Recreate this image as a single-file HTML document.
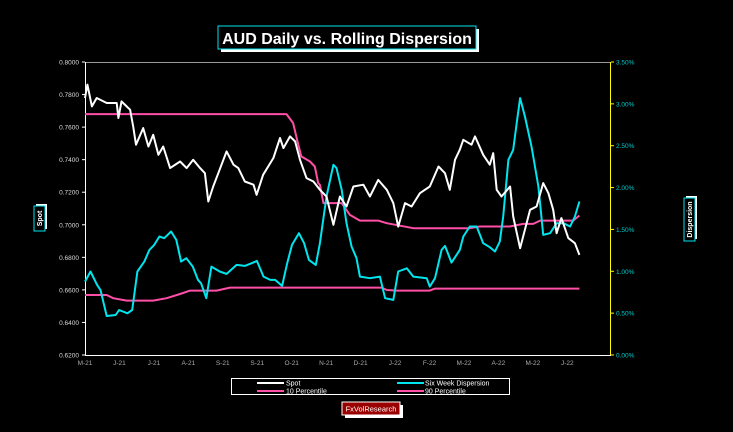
<!DOCTYPE html>
<html><head><meta charset="utf-8"><style>
body{margin:0;background:#000;width:733px;height:432px;overflow:hidden;font-family:"Liberation Sans",sans-serif}
svg{display:block}
</style></head><body>
<svg width="733" height="432">
<rect x="0" y="0" width="733" height="432" fill="#000"/>
<g>
<rect x="221" y="29" width="258" height="23" fill="#fff"/>
<rect x="218" y="26" width="258" height="23" fill="#000" stroke="#00e5ee" stroke-width="1"/>
<text x="347" y="44" text-anchor="middle" fill="#fff" font-size="16" font-weight="bold">AUD Daily vs. Rolling Dispersion</text>
</g>
<g id="axes"></g>
<g id="series"></g>
<g>
<rect x="36" y="204" width="11" height="25" fill="#fff"/>
<rect x="34" y="206" width="11" height="25" fill="#000" stroke="#00e5ee"/>
<text transform="translate(42,218.5) rotate(-90)" text-anchor="middle" fill="#fff" font-size="7" font-weight="bold">Spot</text>
</g>
<g>
<rect x="686" y="196" width="11" height="43" fill="#fff"/>
<rect x="684" y="198" width="11" height="43" fill="#000" stroke="#00e5ee"/>
<text transform="translate(692,219.5) rotate(-90)" text-anchor="middle" fill="#fff" font-size="7" font-weight="bold">Dispersion</text>
</g>
<g>
<rect x="231.5" y="378.5" width="278" height="16" fill="#000" stroke="#fff"/>
<g><line x1="257" y1="383" x2="284" y2="383" stroke="#fff" stroke-width="2"/><text x="286" y="385.5" fill="#fff" font-size="7">Spot</text></g>
<g><line x1="397" y1="383" x2="424" y2="383" stroke="#00e5ee" stroke-width="2"/><text x="425" y="385.5" fill="#fff" font-size="7">Six Week Dispersion</text></g>
<g><line x1="257" y1="391" x2="284" y2="391" stroke="#ff4fa6" stroke-width="2"/><text x="286" y="393.5" fill="#fff" font-size="7">10 Percentile</text></g>
<g><line x1="397" y1="391" x2="424" y2="391" stroke="#ff4fa6" stroke-width="2"/><text x="425" y="393.5" fill="#fff" font-size="7">90 Percentile</text></g>
</g>
<g>
<rect x="345" y="405" width="58" height="13" fill="#fff"/>
<rect x="342" y="402" width="58" height="13" fill="#9b0000" stroke="#fff"/>
<text x="371" y="411.5" text-anchor="middle" fill="#fff" font-size="7.5">FxVolResearch</text>
</g>
</svg>
<script>
const monthLabels=["M-21","J-21","J-21","A-21","S-21","S-21","O-21","N-21","D-21","J-22","F-22","M-22","A-22","M-22","J-22"];
const leftTicks=[0.62,0.64,0.66,0.68,0.70,0.72,0.74,0.76,0.78,0.80];
const rightTicks=[0,0.5,1,1.5,2,2.5,3,3.5];
const spotM=[0,0.07,0.2,0.34,0.63,0.92,0.97,1.06,1.31,1.40,1.48,1.69,1.84,1.98,2.13,2.27,2.47,2.76,2.95,3.14,3.34,3.48,3.58,3.72,3.87,4.11,4.31,4.45,4.64,4.89,4.98,5.17,5.47,5.66,5.76,5.95,6.10,6.24,6.43,6.63,6.82,7.01,7.21,7.40,7.59,7.79,8.08,8.27,8.51,8.76,8.95,9.09,9.29,9.48,9.72,10.01,10.26,10.45,10.59,10.74,10.88,10.98,11.22,11.32,11.56,11.75,11.85,11.95,12.09,12.34,12.43,12.63,12.77,12.92,13.11,13.30,13.45,13.59,13.69,13.83,14.03,14.22,14.35];
const spotV=[0.7779,0.7861,0.7727,0.7779,0.7748,0.7748,0.7656,0.7758,0.7707,0.7604,0.7492,0.7594,0.7481,0.7553,0.7430,0.7481,0.7348,0.7389,0.7348,0.7399,0.7348,0.7317,0.7143,0.7235,0.7317,0.7451,0.7369,0.7348,0.7266,0.7246,0.7184,0.7307,0.7410,0.7533,0.7471,0.7543,0.7512,0.7399,0.7287,0.7266,0.7215,0.7174,0.7000,0.7174,0.7112,0.7235,0.7246,0.7174,0.7276,0.7215,0.7133,0.6989,0.7133,0.7112,0.7194,0.7235,0.7358,0.7317,0.7215,0.7399,0.7461,0.7522,0.7492,0.7543,0.7430,0.7369,0.7440,0.7215,0.7174,0.7235,0.7051,0.6856,0.6969,0.7092,0.7112,0.7256,0.7194,0.7092,0.6948,0.7041,0.6918,0.6887,0.6815];
const dispM=[0,0.16,0.35,0.45,0.63,0.89,0.99,1.23,1.37,1.52,1.72,1.87,2.01,2.16,2.30,2.50,2.65,2.79,2.94,3.13,3.28,3.37,3.52,3.67,3.91,4.11,4.40,4.64,4.84,4.99,5.18,5.38,5.52,5.72,5.87,6.01,6.21,6.36,6.50,6.70,6.82,7.01,7.21,7.30,7.45,7.59,7.74,7.88,7.98,8.27,8.56,8.71,8.95,9.09,9.34,9.53,9.92,10.01,10.16,10.35,10.45,10.64,10.88,10.98,11.17,11.37,11.56,11.75,11.90,12.04,12.14,12.29,12.43,12.53,12.63,12.77,12.96,13.16,13.30,13.50,13.69,13.89,14.08,14.22,14.35];
const dispV=[0.877,0.997,0.837,0.777,0.466,0.478,0.538,0.498,0.538,0.997,1.116,1.256,1.315,1.415,1.395,1.475,1.375,1.116,1.156,1.056,0.897,0.857,0.678,1.056,0.997,0.969,1.076,1.064,1.096,1.124,0.937,0.897,0.897,0.825,1.096,1.315,1.455,1.335,1.136,1.076,1.335,1.893,2.272,2.232,1.973,1.574,1.295,1.156,0.937,0.917,0.937,0.678,0.658,0.997,1.036,0.937,0.917,0.817,0.917,1.256,1.303,1.104,1.256,1.415,1.535,1.535,1.335,1.288,1.236,1.355,1.654,2.332,2.451,2.770,3.069,2.850,2.491,2.013,1.435,1.455,1.574,1.574,1.535,1.654,1.834];
const p90M=[0,5.85,6.04,6.18,6.28,6.53,6.67,6.77,6.82,6.92,7.45,7.69,7.98,8.51,8.76,9.53,11.17,11.46,12.33,12.72,13.01,13.21,14.17,14.35];
const p90V=[2.878,2.878,2.771,2.531,2.372,2.312,2.252,2.053,2.033,1.814,1.814,1.674,1.606,1.606,1.574,1.515,1.515,1.535,1.535,1.566,1.566,1.606,1.606,1.666];
const p10M=[0,0.63,0.82,1.21,1.98,2.37,2.76,3.05,3.82,4.21,6.82,8.61,8.76,9.05,10.01,10.16,14.35];
const p10V=[0.717,0.717,0.678,0.650,0.650,0.678,0.729,0.769,0.769,0.805,0.805,0.805,0.777,0.769,0.769,0.793,0.793];

const NS="http://www.w3.org/2000/svg";
const X0=85,X1=611,Y0=62,Y1=355,MW=34.45;
const xs=m=>X0+m*MW;
const yL=v=>Y1-(v-0.62)/0.18*(Y1-Y0);
const yR=v=>Y1-v/3.5*(Y1-Y0);
function mk(tag,attrs,parent){const e=document.createElementNS(NS,tag);for(const k in attrs)e.setAttribute(k,attrs[k]);parent.appendChild(e);return e;}
const axes=document.getElementById('axes'),ser=document.getElementById('series');
let t=mk('line',{x1:X0,y1:Y0+0.5,x2:X1,y2:Y0+0.5,stroke:'#999'},axes);


t=mk('line',{x1:X0+0.5,y1:Y0,x2:X0+0.5,y2:Y1,stroke:'#fff'},axes);


t=mk('line',{x1:X0,y1:Y1+0.5,x2:X1,y2:Y1+0.5,stroke:'#fff'},axes);


t=mk('line',{x1:X1-0.5,y1:Y0,x2:X1-0.5,y2:Y1,stroke:'#ffff00'},axes);


leftTicks.forEach(v=>{const y=yL(v);mk('line',{x1:X0-3,y1:y,x2:X0,y2:y,stroke:'#fff'},axes);
 const tx=mk('text',{x:X0-6,y:y+2.5,'text-anchor':'end',fill:'#ddd','font-size':'6.5'},axes);tx.textContent=v.toFixed(4);
 
 });
rightTicks.forEach(v=>{const y=yR(v);mk('line',{x1:X1,y1:y,x2:X1+3,y2:y,stroke:'#ffff00'},axes);
 const tx=mk('text',{x:X1+5,y:y+2.5,fill:'#00cccc','font-size':'6.5'},axes);tx.textContent=v.toFixed(2)+'%';
 
 });
monthLabels.forEach((l,i)=>{const tx=mk('text',{x:xs(i),y:Y1+10,'text-anchor':'middle',fill:'#aaa','font-size':'6.5'},axes);tx.textContent=l;
 
 });
function line(M,V,yf,col,name,w){const d=M.map((m,i)=>(i?'L':'M')+xs(m).toFixed(1)+','+yf(V[i]).toFixed(1)).join('');
 const p=mk('path',{d:d,fill:'none',stroke:col,'stroke-width':w,'stroke-linejoin':'round'},ser);
 
 }
line(p10M,p10V,yR,'#ff4fa6','percentile-10-line',2);
line(p90M,p90V,yR,'#ff4fa6','percentile-90-line',2);
line(dispM,dispV,yR,'#00e5ee','six-week-dispersion-line',2);
line(spotM,spotV,yL,'#fff','spot-line',2);
</script>
</body></html>
